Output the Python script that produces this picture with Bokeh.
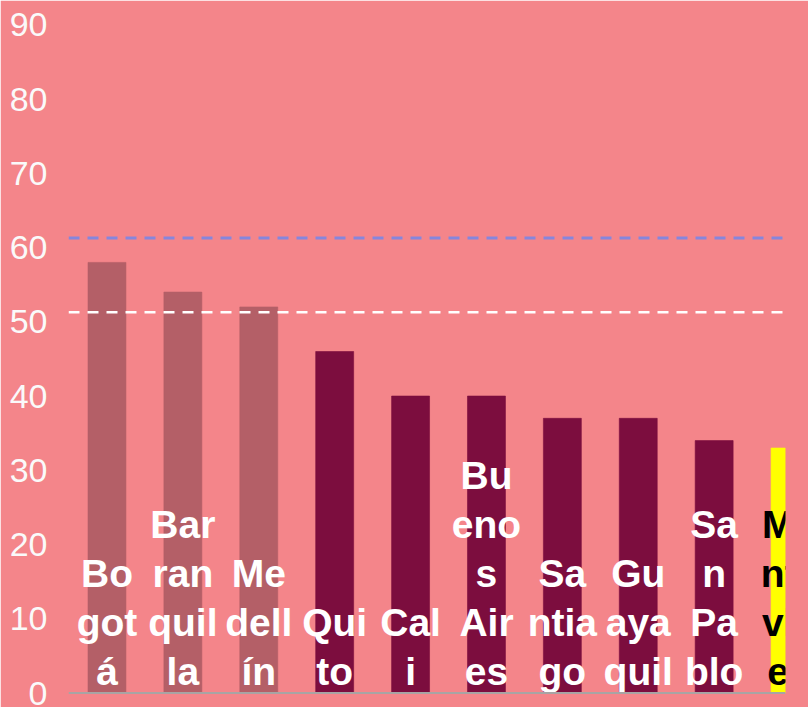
from bokeh.plotting import figure
from bokeh.models import ColumnDataSource, Range1d, Span, FixedTicker
from bokeh.core.properties import value
from bokeh.embed import file_html
from bokeh.resources import INLINE

# ---- data ----
cities = ["Bogotá", "Barranquilla", "Medellín", "Quito", "Cali",
          "Buenos Aires", "Santiago", "Guayaquil", "San Pablo", "Montevideo"]
label_lines = [["Bo", "got", "á"], ["Bar", "ran", "quil", "la"], ["Me", "dell", "ín"],
               ["Qui", "to"], ["Cal", "i"], ["Bu", "eno", "s", "Air", "es"],
               ["Sa", "ntia", "go"], ["Gu", "aya", "quil"], ["Sa", "n", "Pa", "blo"],
               ["Mo", "nte", "vid", "eo"]]
values = [58, 54, 52, 46, 40, 40, 37, 37, 34, 33]
ref_upper = 61.3
ref_lower = 51.3
y_ticks = [0, 10, 20, 30, 40, 50, 60, 70, 80, 90]

# ---- styles ----
BG = "#F4858A"
bar_colors = ["#B45F67"] * 3 + ["#7C0D3E"] * 6 + ["#FFFF00"]
text_colors = ["#FFFFFF"] * 9 + ["#000000"]

X0, X1 = -0.507, 8.94
p = figure(width=808, height=707, output_backend="svg", toolbar_location=None,
           x_range=Range1d(X0, X1), y_range=Range1d(-0.2, 92.2),
           x_axis_location=None, y_axis_location="left",
           min_border_left=68, min_border_right=23, min_border_top=8, min_border_bottom=13)
p.background_fill_color = BG
p.border_fill_color = BG
p.outline_line_color = BG
p.outline_line_width = 2
p.grid.visible = False

ya = p.yaxis[0]
ya.ticker = FixedTicker(ticks=y_ticks)
ya.axis_line_color = None
ya.major_tick_line_color = None
ya.minor_tick_line_color = None
ya.major_label_standoff = 15
ya.major_label_text_font = "Liberation Sans"
ya.major_label_text_font_size = "34px"
ya.major_label_text_color = "#FAFAFA"

idx = list(range(len(cities)))
src = ColumnDataSource(dict(x=idx, top=values, color=bar_colors, city=cities))
p.vbar(x="x", top="top", width=0.5, bottom=0, fill_color="color",
       line_color="color", line_alpha=0.6, source=src)

p.add_layout(Span(location=0, dimension="width", line_color="#A8A4A4", line_width=2))
p.add_layout(Span(location=ref_upper, dimension="width", line_color="#8686DC",
                  line_width=3, line_dash="11 8"))
p.add_layout(Span(location=ref_lower, dimension="width", line_color="#FFFFFF",
                  line_width=2.5, line_dash="11 8"))

# bar labels (wrapped lines, bottom aligned)
lx, ly, lt, lc, lo = [], [], [], [], []
for i, lines in enumerate(label_lines):
    for k, s in enumerate(reversed(lines)):
        lx.append(i)
        ly.append(0)
        lt.append(s)
        lc.append(text_colors[i])
        lo.append(-(22 + k * 49))
lsrc = ColumnDataSource(dict(x=lx, y=ly, t=lt, c=lc, o=lo))
p.text(x="x", y="y", text="t", text_color="c", y_offset="o", source=lsrc,
       text_align="center", text_baseline="alphabetic",
       text_font=value("Liberation Sans"), text_font_style="bold",
       text_font_size="39px")

open("out.html", "w").write(file_html(p, INLINE))
